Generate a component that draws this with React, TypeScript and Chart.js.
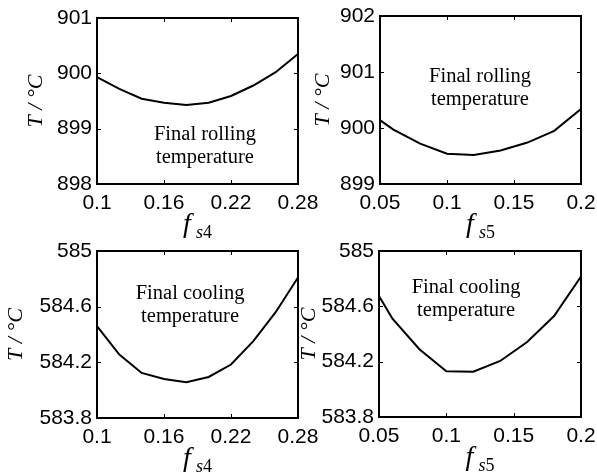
import React, { useEffect, useRef } from 'react';
import { Chart, registerables } from 'chart.js';

Chart.register(...registerables);

// ---- data ----
const fs4Values = [0.10, 0.12, 0.14, 0.16, 0.18, 0.20, 0.22, 0.24, 0.26, 0.28];
const fs5Values = [0.05, 0.06, 0.08, 0.10, 0.12, 0.14, 0.16, 0.18, 0.20];
const rollingTempFs4 = [899.93, 899.72, 899.54, 899.47, 899.43, 899.47, 899.59, 899.78, 900.02, 900.35];
const rollingTempFs5 = [900.14, 899.97, 899.72, 899.54, 899.52, 899.60, 899.74, 899.95, 900.34];
const coolingTempFs4 = [584.46, 584.256, 584.124, 584.08, 584.057, 584.095, 584.184, 584.352, 584.56, 584.81];
const coolingTempFs5 = [584.675, 584.51, 584.29, 584.13, 584.128, 584.205, 584.342, 584.53, 584.815];

const fs4Ticks = [0.1, 0.16, 0.22, 0.28];
const fs5Ticks = [0.05, 0.1, 0.15, 0.2];
const rollingTicksFs4 = [898, 899, 900, 901];
const rollingTicksFs5 = [899, 900, 901, 902];
const coolingTicks = [583.8, 584.2, 584.6, 585];

const yTitle = 'T / °C';
const rollingNote = ['Final rolling', 'temperature'];
const coolingNote = ['Final cooling', 'temperature'];

type Panel = {
  key: string;
  left: number; top: number; width: number; height: number;
  padTop: number; padRight: number; yWidth: number; xHeight: number;
  xs: number[]; ys: number[]; xTicks: number[]; yTicks: number[];
  sub: string; note: string[]; noteFx: number; noteFy: number; yTitleGap: number;
};

const panels: Panel[] = [
  { key: 'p1', left: 0, top: 0, width: 320, height: 250, padTop: 18, padRight: 22, yWidth: 97, xHeight: 66,
    xs: fs4Values, ys: rollingTempFs4, xTicks: fs4Ticks, yTicks: rollingTicksFs4, sub: '4',
    note: rollingNote, noteFx: 0.537, noteFy: 0.735, yTitleGap: 61 },
  { key: 'p2', left: 300, top: 0, width: 297, height: 250, padTop: 16, padRight: 16, yWidth: 80, xHeight: 66,
    xs: fs5Values, ys: rollingTempFs5, xTicks: fs5Ticks, yTicks: rollingTicksFs5, sub: '5',
    note: rollingNote, noteFx: 0.4975, noteFy: 0.393, yTitleGap: 57 },
  { key: 'p3', left: 0, top: 236, width: 320, height: 237, padTop: 15, padRight: 22, yWidth: 97, xHeight: 55,
    xs: fs4Values, ys: coolingTempFs4, xTicks: fs4Ticks, yTicks: coolingTicks, sub: '4',
    note: coolingNote, noteFx: 0.463, noteFy: 0.287, yTitleGap: 81 },
  { key: 'p4', left: 300, top: 236, width: 297, height: 237, padTop: 15, padRight: 16, yWidth: 79, xHeight: 56,
    xs: fs5Values, ys: coolingTempFs5, xTicks: fs5Ticks, yTicks: coolingTicks, sub: '5',
    note: coolingNote, noteFx: 0.431, noteFy: 0.253, yTitleGap: 70 },
];

const decorPlugin = {
  id: 'decor',
  afterDraw(chart: any, _args: any, opts: any) {
    const { ctx, chartArea: a, scales } = chart;
    const xs = scales.x, ys = scales.y;
    ctx.save();
    ctx.strokeStyle = '#000';
    ctx.fillStyle = '#000';
    // inward ticks
    const tl = 4;
    ctx.lineWidth = 1;
    ctx.beginPath();
    xs.ticks.forEach((t: any) => {
      const px = Math.round(xs.getPixelForValue(t.value)) + 0.5;
      ctx.moveTo(px, a.bottom); ctx.lineTo(px, a.bottom - tl);
      ctx.moveTo(px, a.top); ctx.lineTo(px, a.top + tl);
    });
    ys.ticks.forEach((t: any) => {
      const py = Math.round(ys.getPixelForValue(t.value)) + 0.5;
      ctx.moveTo(a.left, py); ctx.lineTo(a.left + tl, py);
      ctx.moveTo(a.right, py); ctx.lineTo(a.right - tl, py);
    });
    ctx.stroke();
    // box
    ctx.lineWidth = 2;
    ctx.strokeRect(a.left, a.top, a.right - a.left, a.bottom - a.top);

    // note text
    ctx.font = '20.5px "Liberation Serif", "Times New Roman", serif';
    ctx.textAlign = 'center';
    ctx.textBaseline = 'alphabetic';
    const nx = a.left + opts.noteFx * (a.right - a.left);
    const ny = a.top + opts.noteFy * (a.bottom - a.top);
    opts.note.forEach((line: string, i: number) => ctx.fillText(line, nx, ny + i * 23));

    // y title
    ctx.save();
    ctx.font = 'italic 22px "Liberation Serif", "Times New Roman", serif';
    ctx.translate(a.left - opts.yTitleGap, (a.top + a.bottom) / 2);
    ctx.rotate(-Math.PI / 2);
    ctx.textAlign = 'center';
    ctx.textBaseline = 'middle';
    ctx.fillText(opts.yTitle, 0, 0);
    ctx.restore();

    // x title f_{s4}
    const fFont = 'italic 28px "Liberation Serif", "Times New Roman", serif';
    const sFont = 'italic 18px "Liberation Serif", "Times New Roman", serif';
    const nFont = '18px "Liberation Serif", "Times New Roman", serif';
    ctx.textAlign = 'left';
    ctx.textBaseline = 'alphabetic';
    ctx.font = fFont; const wf = ctx.measureText('f').width;
    ctx.font = sFont; const wsub = ctx.measureText('s').width;
    ctx.font = nFont; const wn = ctx.measureText(opts.sub).width;
    const gap = 5;
    const total = wf + gap + wsub + wn;
    const cx = (a.left + a.right) / 2;
    const x0 = cx - total / 2;
    const fBase = a.bottom + 48;
    const sBase = a.bottom + 54;
    ctx.font = fFont; ctx.fillText('f', x0, fBase);
    ctx.font = sFont; ctx.fillText('s', x0 + wf + gap, sBase);
    ctx.font = nFont; ctx.fillText(opts.sub, x0 + wf + gap + wsub, sBase);
    ctx.restore();
  },
};

function PanelChart({ p }: { p: Panel }) {
  const ref = useRef<HTMLCanvasElement | null>(null);
  useEffect(() => {
    if (!ref.current) return;
    const tickFont = { family: '"Liberation Sans", Arial, sans-serif', size: 21 };
    const chart = new Chart(ref.current, {
      type: 'line',
      data: {
        datasets: [{
          data: p.xs.map((x, i) => ({ x, y: p.ys[i] })),
          borderColor: '#000',
          borderWidth: 2,
          pointRadius: 0,
          tension: 0,
          fill: false,
        }],
      },
      options: {
        animation: false,
        responsive: false,
        devicePixelRatio: 1,
        layout: { padding: { top: p.padTop, right: p.padRight, left: 0, bottom: 0 } },
        plugins: {
          legend: { display: false },
          tooltip: { enabled: false },
          decor: { note: p.note, noteFx: p.noteFx, noteFy: p.noteFy, yTitle, yTitleGap: p.yTitleGap, sub: p.sub },
        } as any,
        scales: {
          x: {
            type: 'linear',
            min: p.xTicks[0],
            max: p.xTicks[p.xTicks.length - 1],
            grid: { display: false, drawTicks: false },
            border: { display: false },
            ticks: { font: tickFont, color: '#000', padding: 7, maxRotation: 0, callback: (v: any) => String(v) },
            afterBuildTicks: (s: any) => { s.ticks = p.xTicks.map((v) => ({ value: v })); },
            afterFit: (s: any) => { s.height = p.xHeight; s.paddingLeft = 0; s.paddingRight = 0; },
          },
          y: {
            type: 'linear',
            min: p.yTicks[0],
            max: p.yTicks[p.yTicks.length - 1],
            grid: { display: false, drawTicks: false },
            border: { display: false },
            ticks: { font: tickFont, color: '#000', padding: 5, callback: (v: any) => String(v) },
            afterBuildTicks: (s: any) => { s.ticks = p.yTicks.map((v) => ({ value: v })); },
            afterFit: (s: any) => { s.width = p.yWidth; s.paddingTop = 0; s.paddingBottom = 0; },
          },
        },
      },
      plugins: [decorPlugin],
    });
    return () => chart.destroy();
  }, [p]);
  return (
    <canvas
      ref={ref}
      width={p.width}
      height={p.height}
      style={{ position: 'absolute', left: p.left, top: p.top, width: p.width, height: p.height }}
    />
  );
}

export default function App() {
  return (
    <div style={{ position: 'fixed', left: 0, top: 0, width: 597, height: 473, background: '#fff', overflow: 'hidden' }}>
      {panels.map((p) => <PanelChart key={p.key} p={p} />)}
    </div>
  );
}
